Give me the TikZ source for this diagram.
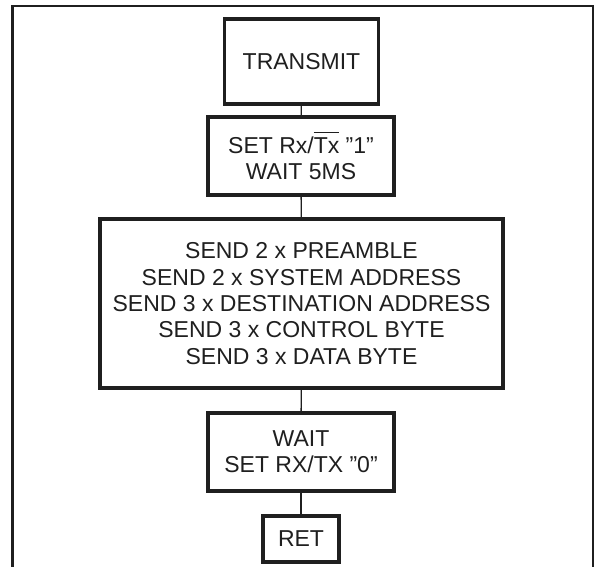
\documentclass[tikz,border=0pt]{standalone}
\usepackage{fontspec}
\setmainfont{Liberation Sans}
\newcommand{\myovl}[1]{\leavevmode\vbox{\hrule height 1pt\kern 4pt\hbox{#1}}}
\begin{document}
\begin{tikzpicture}[x=1pt,y=1pt,
  ink/.style={draw=black!88},
  stepbox/.style={ink, line width=3.2pt, inner sep=0pt, align=center,
    font=\fontsize{23}{26.3}\selectfont, text=black!88},
  link/.style={ink, line width=1.3pt}]
\useasboundingbox (0,0) rectangle (595,567);
\draw[ink, line width=2.5pt] (12.5,0) -- (12.5,560.8) -- (593,560.8) -- (593,0);
\node[stepbox, minimum width=153.7, minimum height=85] (t) at (301.5,505.5) {TRANSMIT};
\node[stepbox, minimum width=186, minimum height=78] (s) at (301,411)
  {SET Rx/\myovl{Tx} ”1”\\WAIT 5MS};
\node[stepbox, minimum width=403, minimum height=169] (b) at (301.5,263.5)
  {SEND 2 x PREAMBLE\\SEND 2 x SYSTEM ADDRESS\\SEND 3 x DESTINATION ADDRESS\\SEND 3 x CONTROL BYTE\\SEND 3 x DATA BYTE};
\node[stepbox, minimum width=186, minimum height=78] (w) at (301,115)
  {WAIT\\SET RX/TX ”0”};
\node[stepbox, minimum width=76, minimum height=46] (r) at (301,28) {RET};
\draw[link] (t) -- (s);
\draw[link] (s) -- (b);
\draw[link] (b) -- (w);
\draw[link] (w) -- (r);
\end{tikzpicture}
\end{document}
